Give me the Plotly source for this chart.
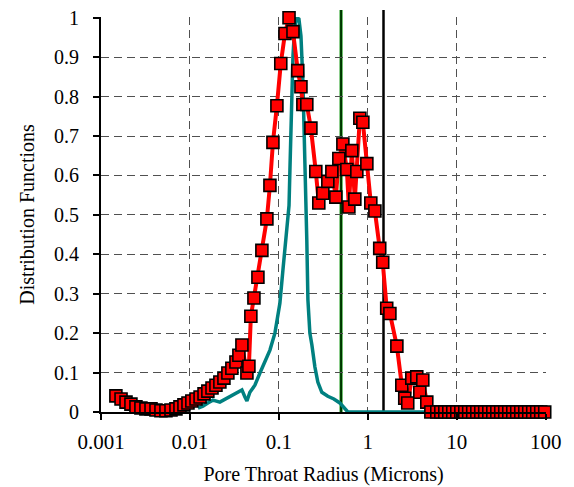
import plotly.graph_objects as go

# Pore throat radius (microns) and distribution values
red_x = [0.00147, 0.00168, 0.00191, 0.00217, 0.00247, 0.00281, 0.00320, 0.00365, 0.00415, 0.00472,
         0.00537, 0.00612, 0.00696, 0.00772, 0.00856, 0.00950, 0.0105, 0.0117, 0.0130, 0.0144,
         0.0159, 0.0177, 0.0196, 0.0217, 0.0241, 0.0267, 0.0296, 0.0329, 0.0355, 0.0384,
         0.0437, 0.0460, 0.0484, 0.0524, 0.0581, 0.0644, 0.0733, 0.0793, 0.0857, 0.0950,
         0.105, 0.117, 0.130, 0.144, 0.163, 0.177, 0.186, 0.206, 0.229, 0.260,
         0.281, 0.312, 0.355, 0.394, 0.437, 0.472, 0.524, 0.581, 0.612, 0.661,
         0.714, 0.752, 0.813, 0.879, 0.975, 1.08, 1.20, 1.36, 1.47, 1.63,
         1.77, 2.12, 2.41, 2.60, 2.81, 3.12, 3.55, 3.84, 4.15, 4.60, 5.11,
         5.96, 6.61, 7.33, 8.13, 9.01, 10.0, 11.1, 12.3, 13.6, 15.1,
         16.8, 18.6, 20.6, 22.9, 25.4, 28.2, 31.2, 34.6, 38.4, 42.6,
         47.2, 52.4, 58.1, 64.4, 71.4, 79.2, 87.8, 97.4, 108, 120]
red_y = [0.041, 0.033, 0.025, 0.020, 0.013, 0.010, 0.008, 0.008, 0.005, 0.003,
         0.003, 0.005, 0.008, 0.013, 0.018, 0.023, 0.028, 0.033, 0.038, 0.046,
         0.053, 0.061, 0.068, 0.076, 0.086, 0.099, 0.111, 0.127, 0.144, 0.170,
         0.099, 0.116, 0.243, 0.289, 0.342, 0.410, 0.490, 0.575, 0.684, 0.777,
         0.884, 0.960, 1.000, 0.965, 0.866, 0.825, 0.780, 0.780, 0.720, 0.610,
         0.530, 0.555, 0.585, 0.610, 0.545, 0.643, 0.680, 0.615, 0.520, 0.663,
         0.540, 0.610, 0.745, 0.735, 0.630, 0.530, 0.510, 0.415, 0.380, 0.263,
         0.250, 0.167, 0.068, 0.035, 0.023, 0.086, 0.089, 0.050, 0.081, 0.025, 0.0,
         0, 0, 0, 0, 0, 0, 0, 0, 0, 0,
         0, 0, 0, 0, 0, 0, 0, 0, 0, 0,
         0, 0, 0, 0, 0, 0, 0, 0, 0, 0]

teal_x = [0.0123, 0.0140, 0.0159, 0.0181, 0.0217, 0.0261, 0.0304, 0.0346, 0.0384, 0.0415,
          0.0437, 0.0472, 0.0537, 0.0612, 0.0696, 0.0793, 0.0902, 0.1026, 0.111, 0.117,
          0.123, 0.130, 0.133, 0.136, 0.140, 0.144, 0.151, 0.159, 0.168, 0.177,
          0.186, 0.196, 0.201, 0.206, 0.212, 0.223, 0.235, 0.254, 0.274, 0.304,
          0.355, 0.415, 0.484, 0.537, 0.596, 1, 2, 5, 10, 20, 50, 100, 133]
teal_y = [0.010, 0.015, 0.023, 0.030, 0.025, 0.035, 0.043, 0.048, 0.056, 0.038,
          0.028, 0.050, 0.068, 0.099, 0.127, 0.157, 0.200, 0.276, 0.360, 0.410,
          0.453, 0.524, 0.613, 0.714, 0.815, 0.904, 0.980, 1.000, 0.997, 0.954,
          0.840, 0.663, 0.537, 0.435, 0.284, 0.200, 0.170, 0.114, 0.076, 0.050,
          0.040, 0.033, 0.023, 0.010, 0.0, 0, 0, 0, 0, 0, 0, 0, 0]

cutoff_green = 0.5
cutoff_black = 1.5

x_ticks = [0.001, 0.01, 0.1, 1, 10, 100]
x_ticktext = ["0.001", "0.01", "0.1", "1", "10", "100"]
y_ticks = [0, 0.1, 0.2, 0.3, 0.4, 0.5, 0.6, 0.7, 0.8, 0.9, 1.0]
y_ticktext = ["0", "0.1", "0.2", "0.3", "0.4", "0.5", "0.6", "0.7", "0.8", "0.9", "1"]

FONT = "Liberation Serif"

fig = go.Figure()
fig.add_trace(go.Scatter(x=teal_x, y=teal_y, mode="lines",
                         line=dict(color="#008080", width=3.5), showlegend=False, cliponaxis=False))
fig.add_trace(go.Scatter(x=red_x, y=red_y, mode="lines+markers",
                         line=dict(color="#FF0000", width=4),
                         marker=dict(symbol="square", size=12, color="#FF0000",
                                     line=dict(color="black", width=1.6)),
                         showlegend=False, cliponaxis=False))

fig.add_shape(type="line", xref="x", yref="paper", x0=cutoff_green, x1=cutoff_green, y0=0, y1=1.018,
              line=dict(color="#009000", width=3), layer="between")
fig.add_shape(type="line", xref="x", yref="paper", x0=cutoff_green, x1=cutoff_green, y0=0, y1=1.018,
              line=dict(color="black", width=1.2), layer="between")
fig.add_shape(type="line", xref="x", yref="paper", x0=cutoff_black, x1=cutoff_black, y0=0, y1=1.018,
              line=dict(color="black", width=2.5), layer="between")

fig.update_layout(
    width=574, height=487,
    margin=dict(l=101, r=28, t=17, b=75),
    paper_bgcolor="white", plot_bgcolor="white",
    font=dict(family=FONT, size=20, color="black"),
    xaxis=dict(type="log", range=[-3, 2.003], tickvals=x_ticks, ticktext=x_ticktext,
               automargin=False,
               tickfont=dict(family=FONT, size=21),
               showgrid=True, gridcolor="#505050", gridwidth=1.4, griddash="8px,5px",
               showline=True, linecolor="black", linewidth=1.5,
               ticks="outside", ticklen=6, tickcolor="black", tickwidth=1.5,
               ticklabelstandoff=4, zeroline=False,
               title=dict(text="Pore Throat Radius (Microns)", font=dict(family=FONT, size=20), standoff=14)),
    yaxis=dict(range=[0, 1.002], tickvals=y_ticks, ticktext=y_ticktext,
               automargin=False,
               tickfont=dict(family=FONT, size=20),
               showgrid=True, gridcolor="#505050", gridwidth=1.4, griddash="8px,5px",
               showline=True, linecolor="black", linewidth=2,
               ticks="outside", ticklen=6, tickcolor="black", tickwidth=1.5,
               ticklabelstandoff=10, zeroline=False,
               title=dict(text="Distribution Functions", font=dict(family=FONT, size=20), standoff=14)),
)

fig.write_html("out.html")
